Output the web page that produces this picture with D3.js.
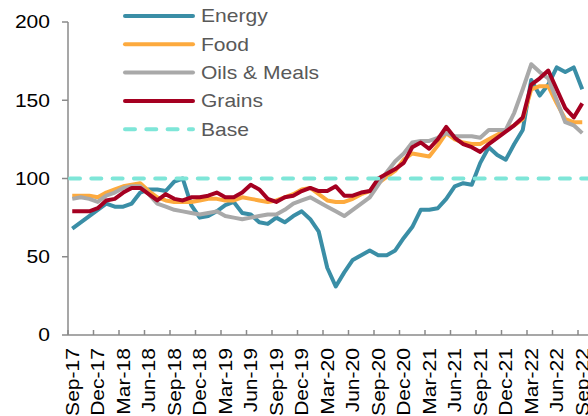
<!DOCTYPE html>
<html>
<head>
<meta charset="utf-8">
<script src="https://cdn.jsdelivr.net/npm/d3@7"></script>
<style>
  body { margin: 0; background: #fff; }
  svg { display: block; font-family: Arial, "Liberation Sans", sans-serif; }
</style>
</head>
<body>
<div id="chart"></div>
<script>
// months Sep-17 .. Sep-22
const months = [
  'Sep-17','Oct-17','Nov-17','Dec-17','Jan-18','Feb-18','Mar-18','Apr-18','May-18','Jun-18','Jul-18','Aug-18',
  'Sep-18','Oct-18','Nov-18','Dec-18','Jan-19','Feb-19','Mar-19','Apr-19','May-19','Jun-19','Jul-19','Aug-19',
  'Sep-19','Oct-19','Nov-19','Dec-19','Jan-20','Feb-20','Mar-20','Apr-20','May-20','Jun-20','Jul-20','Aug-20',
  'Sep-20','Oct-20','Nov-20','Dec-20','Jan-21','Feb-21','Mar-21','Apr-21','May-21','Jun-21','Jul-21','Aug-21',
  'Sep-21','Oct-21','Nov-21','Dec-21','Jan-22','Feb-22','Mar-22','Apr-22','May-22','Jun-22','Jul-22','Aug-22',
  'Sep-22'
];

const energy = [
  68, 72, 76, 80, 84, 82, 82, 84, 91, 93, 93, 92,
  98, 100, 83, 75, 76, 79, 83, 85, 78, 77, 72, 71,
  75, 72, 76, 79, 74, 66, 43, 31, 40, 48, 51, 54,
  51, 51, 54, 62, 69, 80, 80, 81, 87, 95, 97, 96,
  110, 120, 115, 112, 122, 131, 163, 153, 160, 171, 168, 171,
  157
];

const food = [
  89, 89, 89, 88, 91, 93, 95, 96, 97, 92, 88, 86,
  85, 85, 85, 86, 87, 87, 86, 86, 88, 87, 86, 85,
  86, 88, 90, 93, 94, 90, 86, 85, 85, 87, 90, 92,
  97, 101, 105, 112, 116, 115, 114, 121, 129, 125, 123, 122,
  122, 125, 128, 131, 134, 138, 157, 159, 159, 148, 138, 136,
  136
];

const oils = [
  87, 88, 87, 85, 89, 91, 94, 95, 95, 90, 84, 82,
  80, 79, 78, 77, 78, 79, 76, 75, 74, 75, 76, 77,
  77, 80, 84, 86, 88, 85, 82, 79, 76, 80, 84, 88,
  96, 104, 111, 116, 123, 124, 124, 126, 129, 127, 127, 127,
  126, 131, 131, 131, 142, 157, 173, 168, 164, 150, 136, 134,
  129
];

const grains = [
  79, 79, 79, 81, 86, 87, 91, 94, 94, 90, 86, 90,
  87, 86, 88, 88, 89, 91, 88, 88, 91, 96, 93, 87,
  85, 88, 89, 92, 94, 92, 92, 95, 89, 89, 91, 92,
  100, 103, 106, 110, 120, 123, 119, 125, 133, 126, 122, 120,
  117, 122, 126, 130, 134, 139, 160, 164, 169, 157, 145, 139,
  148
];

const baseValue = 100;
const yTicks = [0, 50, 100, 150, 200];

const series = [
  { name: 'Energy', values: energy, color: '#3a8ea6' },
  { name: 'Food', values: food, color: '#fdaa3e' },
  { name: 'Oils & Meals', values: oils, color: '#a9a9a9' },
  { name: 'Grains', values: grains, color: '#a50021' }
];

const width = 588, height = 416;
const plotLeft = 68, plotRight = 586.5, plotTop = 22, plotBottom = 335;
const fontSize = 18;
const stretch = 1.17; // the original font renders wider than Arial

const svg = d3.select('#chart').append('svg')
  .attr('width', width)
  .attr('height', height);

const x = d3.scaleBand().domain(months).range([plotLeft, plotRight]).padding(0);
const xc = m => x(m) + x.bandwidth() / 2;
const y = d3.scaleLinear().domain([0, 200]).range([plotBottom, plotTop]);

const axisColor = '#8a8a8a';

// y axis
svg.append('line')
  .attr('x1', plotLeft).attr('x2', plotLeft)
  .attr('y1', y(200)).attr('y2', y(0))
  .attr('stroke', axisColor).attr('stroke-width', 1.5);

svg.selectAll('.ytick').data(yTicks).enter().append('line')
  .attr('x1', plotLeft - 6).attr('x2', plotLeft)
  .attr('y1', d => y(d)).attr('y2', d => y(d))
  .attr('stroke', axisColor).attr('stroke-width', 1.5);

svg.selectAll('.ylab').data(yTicks).enter().append('text')
  .attr('transform', d => 'translate(50,' + y(d) + ') scale(' + stretch + ',1)')
  .attr('dy', '0.35em')
  .attr('text-anchor', 'end')
  .attr('font-size', fontSize)
  .attr('fill', '#000')
  .text(d => d);

// x axis
svg.append('line')
  .attr('x1', plotLeft).attr('x2', width)
  .attr('y1', y(0)).attr('y2', y(0))
  .attr('stroke', axisColor).attr('stroke-width', 1.5);

const labelMonths = months.filter((m, i) => i % 3 === 0);

svg.selectAll('.xtick').data(labelMonths).enter().append('line')
  .attr('x1', d => x(d)).attr('x2', d => x(d))
  .attr('y1', y(0) - 5).attr('y2', y(0))
  .attr('stroke', axisColor).attr('stroke-width', 1.5);

svg.selectAll('.xlab').data(labelMonths).enter().append('text')
  .attr('transform', d => 'translate(' + xc(d) + ',' + (y(0) + 13) + ') rotate(-90) scale(' + stretch + ',1)')
  .attr('dy', '0.35em')
  .attr('text-anchor', 'end')
  .attr('font-size', fontSize)
  .attr('fill', '#000')
  .text(d => d);

// series lines
const line = d3.line()
  .x((d, i) => xc(months[i]))
  .y(d => y(d));

series.forEach(s => {
  svg.append('path')
    .datum(s.values)
    .attr('d', line)
    .attr('fill', 'none')
    .attr('stroke', s.color)
    .attr('stroke-width', 4)
    .attr('stroke-linejoin', 'round');
});

// base line (dashed, drawn on top)
svg.append('line')
  .attr('x1', plotLeft + 2).attr('x2', width)
  .attr('y1', y(baseValue)).attr('y2', y(baseValue))
  .attr('stroke', '#7ee6d8')
  .attr('stroke-width', 4)
  .attr('stroke-linecap', 'round')
  .attr('stroke-dasharray', '10,11.3');

// legend
const legendItems = series.map(s => ({ name: s.name, color: s.color, dash: null }))
  .concat([{ name: 'Base', color: '#7ee6d8', dash: '10,11.3' }]);

const legend = svg.selectAll('.legend').data(legendItems).enter().append('g')
  .attr('transform', (d, i) => 'translate(0,' + (16 + i * 28.3) + ')');

legend.append('line')
  .attr('x1', 125).attr('x2', 193)
  .attr('y1', 0).attr('y2', 0)
  .attr('stroke', d => d.color)
  .attr('stroke-width', 4)
  .attr('stroke-linecap', 'round')
  .attr('stroke-dasharray', d => d.dash);

legend.append('text')
  .attr('transform', 'translate(201,0) scale(' + stretch + ',1)')
  .attr('dy', '0.35em')
  .attr('font-size', fontSize)
  .attr('fill', '#595959')
  .text(d => d.name);
</script>
</body>
</html>
